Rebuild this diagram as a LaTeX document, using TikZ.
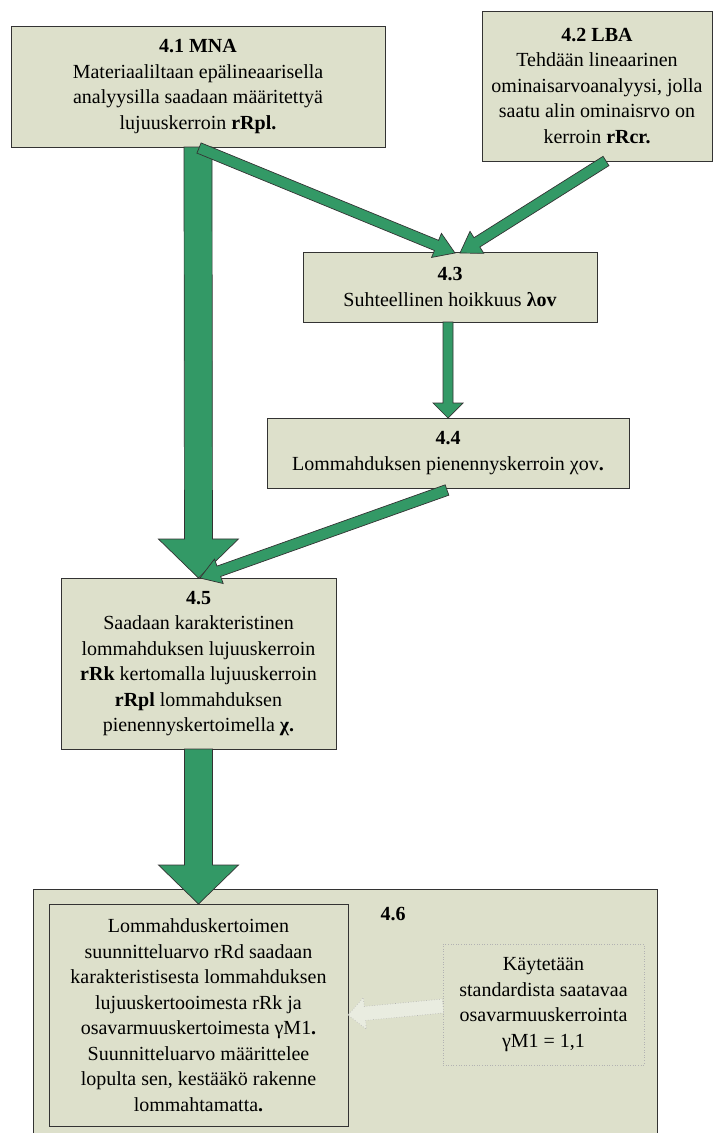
\documentclass[tikz,border=0pt]{standalone}
\usepackage{fontspec}
\setmainfont{Liberation Serif}
\usetikzlibrary{calc}
\definecolor{boxfill}{RGB}{221,224,203}
\definecolor{arrgreen}{RGB}{51,153,102}
\definecolor{lightarr}{RGB}{233,236,224}
% #1 style, #2 from, #3 to, #4 shaft half width, #5 head half width, #6 head length
\newcommand\blockarr[6]{%
  \coordinate (hb) at ($(#3)!#6!(#2)$);
  \draw[#1] ($(#2)!#4!90:(#3)$) -- ($(hb)!#4!90:(#3)$) -- ($(hb)!#5!90:(#3)$) -- (#3)
    -- ($(hb)!#5!-90:(#3)$) -- ($(hb)!#4!-90:(#3)$) -- ($(#2)!#4!-90:(#3)$) -- cycle;}
\tikzset{
  box/.style={draw=black!80, fill=boxfill, line width=0.8pt, inner sep=0pt, outer sep=0pt,
    align=center, font=\fontsize{20}{25.5}\selectfont},
  dotbox/.style={draw=gray!60, dotted, fill=boxfill, line width=0.6pt, inner sep=0pt, outer sep=0pt,
    align=center, font=\fontsize{20}{25.5}\selectfont},
  greenarr/.style={fill=arrgreen, draw=black!80, line width=0.7pt, line join=miter},
  lightarrow/.style={fill=lightarr, draw=gray!60, dotted, line width=0.6pt},
  lbl/.style={font=\fontsize{20}{25.5}\selectfont\bfseries, inner sep=0pt}
}
\begin{document}
\begin{tikzpicture}[x=1pt,y=-1pt]
\clip (0,0) rectangle (722,1133);
\fill[white] (0,0) rectangle (722,1133);

\node[box, minimum width=374pt, minimum height=121pt] (n41) at (198,86.5)
  {\textbf{4.1 MNA}\\Materiaaliltaan epälineaarisella\\analyysilla saadaan määritettyä\\lujuuskerroin \textbf{rRpl.}};
\node[box, minimum width=230pt, minimum height=150pt] (n42) at (597,86)
  {\textbf{4.2 LBA}\\Tehdään lineaarinen\\ominaisarvoanalyysi, jolla\\saatu alin ominaisrvo on\\kerroin \textbf{rRcr.}};
\node[box, minimum width=294pt, minimum height=70pt] (n43) at (450,287)
  {\textbf{4.3}\\Suhteellinen hoikkuus \textbf{λov}};
\node[box, minimum width=362pt, minimum height=70pt] (n44) at (448,453)
  {\textbf{4.4}\\Lommahduksen pienennyskerroin χov\textbf{.}};
\node[box, minimum width=275pt, minimum height=171pt] (n45) at (198.5,663.5)
  {\textbf{4.5}\\Saadaan karakteristinen\\lommahduksen lujuuskerroin\\\textbf{rRk} kertomalla lujuuskerroin\\\textbf{rRpl} lommahduksen\\pienennyskertoimella \textbf{χ.}};

\node[box, minimum width=624pt, minimum height=270pt, anchor=north west] (n46) at (33,889) {};
\node[box, minimum width=299pt, minimum height=222pt] (n46i) at (198.5,1015)
  {\raisebox{6pt}{\parbox{295pt}{\centering Lommahduskertoimen\\suunnitteluarvo rRd saadaan\\karakteristisesta lommahduksen\\lujuuskertooimesta rRk ja\\osavarmuuskertoimesta γM1\textbf{.}\\Suunnitteluarvo määrittelee\\lopulta sen, kestääkö rakenne\\lommahtamatta\textbf{.}}}};
\node[lbl] (l46) at (393,914) {4.6};
\node[dotbox, minimum width=201pt, minimum height=121pt] (ndot) at (543.5,1004.5)
  {Käytetään\\standardista saatavaa\\osavarmuuskerrointa\\γM1 = 1,1};

% connector end points
\coordinate (t1) at ($(n41.south)+(1,1)$);
\coordinate (h1) at ($(n43.north)+(5,1)$);
\coordinate (t2) at ($(n42.south)+(9,0)$);
\coordinate (h2) at ($(n43.north)+(10,1)$);
\coordinate (t3) at (n43.south -| n44.north);
\coordinate (t4) at ($(n44.south)+(-1,2)$);
\coordinate (h4) at ($(n45.north)+(1.5,0)$);
\coordinate (t5) at ($(ndot.west)+(0,1.5)$);

\blockarr{greenarr}{n41.south}{n45.north}{14pt}{40pt}{39pt}
\blockarr{greenarr}{t1}{h1}{5.5pt}{13pt}{20pt}
\blockarr{greenarr}{t2}{h2}{5.5pt}{13pt}{20pt}
\blockarr{greenarr}{t3}{n44.north}{5pt}{15pt}{15pt}
\blockarr{greenarr}{t4}{h4}{5.5pt}{13pt}{20pt}
\blockarr{greenarr}{n45.south}{n46i.north}{14pt}{40pt}{39pt}
\blockarr{lightarrow}{t5}{n46i.east}{7pt}{16pt}{17pt}
\end{tikzpicture}
\end{document}
